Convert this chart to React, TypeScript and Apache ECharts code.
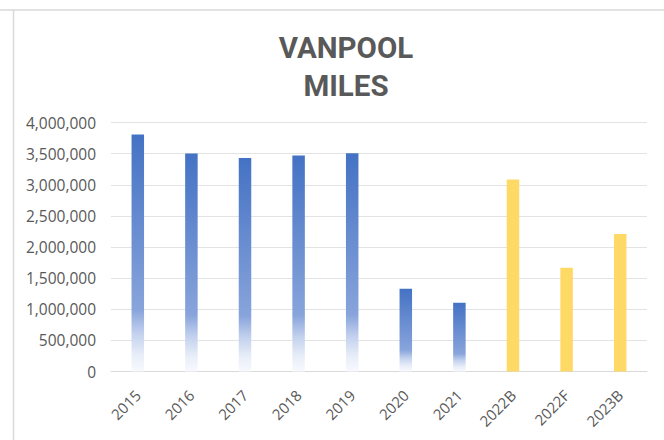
import React, { useEffect, useRef } from "react";
import * as echarts from "echarts";

const categories = ["2015", "2016", "2017", "2018", "2019", "2020", "2021", "2022B", "2022F", "2023B"];
const actualMiles = [3807000, 3502000, 3428000, 3470000, 3505000, 1330000, 1105000, null, null, null];
const plannedMiles = [null, null, null, null, null, null, null, 3085000, 1666000, 2210000];
const yTicks = [0, 500000, 1000000, 1500000, 2000000, 2500000, 3000000, 3500000, 4000000];

const blueGradient = new echarts.graphic.LinearGradient(0, 0, 0, 1, [
  { offset: 0, color: "#4472C4" },
  { offset: 0.74, color: "#88A4DB" },
  { offset: 0.84, color: "#C3D1EE" },
  { offset: 0.93, color: "#E8EEF8" },
  { offset: 1, color: "#F7F9FD" },
]);

export default function App() {
  const ref = useRef<HTMLDivElement>(null);
  useEffect(() => {
    if (!ref.current) return;
    const chart = echarts.init(ref.current, null, { renderer: "svg" });
    const fmt = (v: number) => v.toLocaleString("en-US");
    chart.setOption({
      animation: false,
      backgroundColor: "#ffffff",
      title: {
        text: "VANPOOL\nMILES",
        left: 341,
        top: 24,
        textAlign: "center",
        textStyle: {
          fontFamily: "Roboto",
          fontWeight: "bold",
          fontSize: 29.5,
          lineHeight: 38,
          color: "#595959",
        },
      },
      graphic: [
        { type: "line", shape: { x1: 0, y1: 10, x2: 664, y2: 10 }, style: { stroke: "#D9D9D9", lineWidth: 1.5 } },
        { type: "line", shape: { x1: 13.5, y1: 10, x2: 13.5, y2: 440 }, style: { stroke: "#D9D9D9", lineWidth: 1.5 } },
      ],
      grid: { left: 111, right: 17, top: 122.5, bottom: 68.5, containLabel: false },
      xAxis: {
        type: "category",
        data: categories,
        axisTick: { show: false },
        axisLine: { lineStyle: { color: "#D9D9D9", width: 1.2 } },
        axisLabel: {
          rotate: 45,
          margin: 21,
          interval: 0,
          fontFamily: "Open Sans",
          fontSize: 15,
          color: "#595959",
        },
      },
      yAxis: {
        type: "value",
        min: yTicks[0],
        max: yTicks[yTicks.length - 1],
        interval: yTicks[1] - yTicks[0],
        axisLine: { show: false },
        axisTick: { show: false },
        splitLine: { lineStyle: { color: "#E3E3E3", width: 1.2 } },
        axisLabel: {
          margin: 15,
          fontFamily: "Open Sans",
          fontSize: 15.5,
          color: "#595959",
          formatter: (v: number) => fmt(v),
        },
      },
      series: [
        {
          type: "bar",
          data: actualMiles,
          stack: "miles",
          barWidth: 12.5,
          itemStyle: { color: blueGradient },
        },
        {
          type: "bar",
          data: plannedMiles,
          stack: "miles",
          barWidth: 12.5,
          itemStyle: { color: "#FFD966" },
        },
      ],
    });
    return () => chart.dispose();
  }, []);
  return (
    <div
      ref={ref}
      style={{ position: "fixed", left: 0, top: 0, width: 664, height: 440 }}
    />
  );
}
